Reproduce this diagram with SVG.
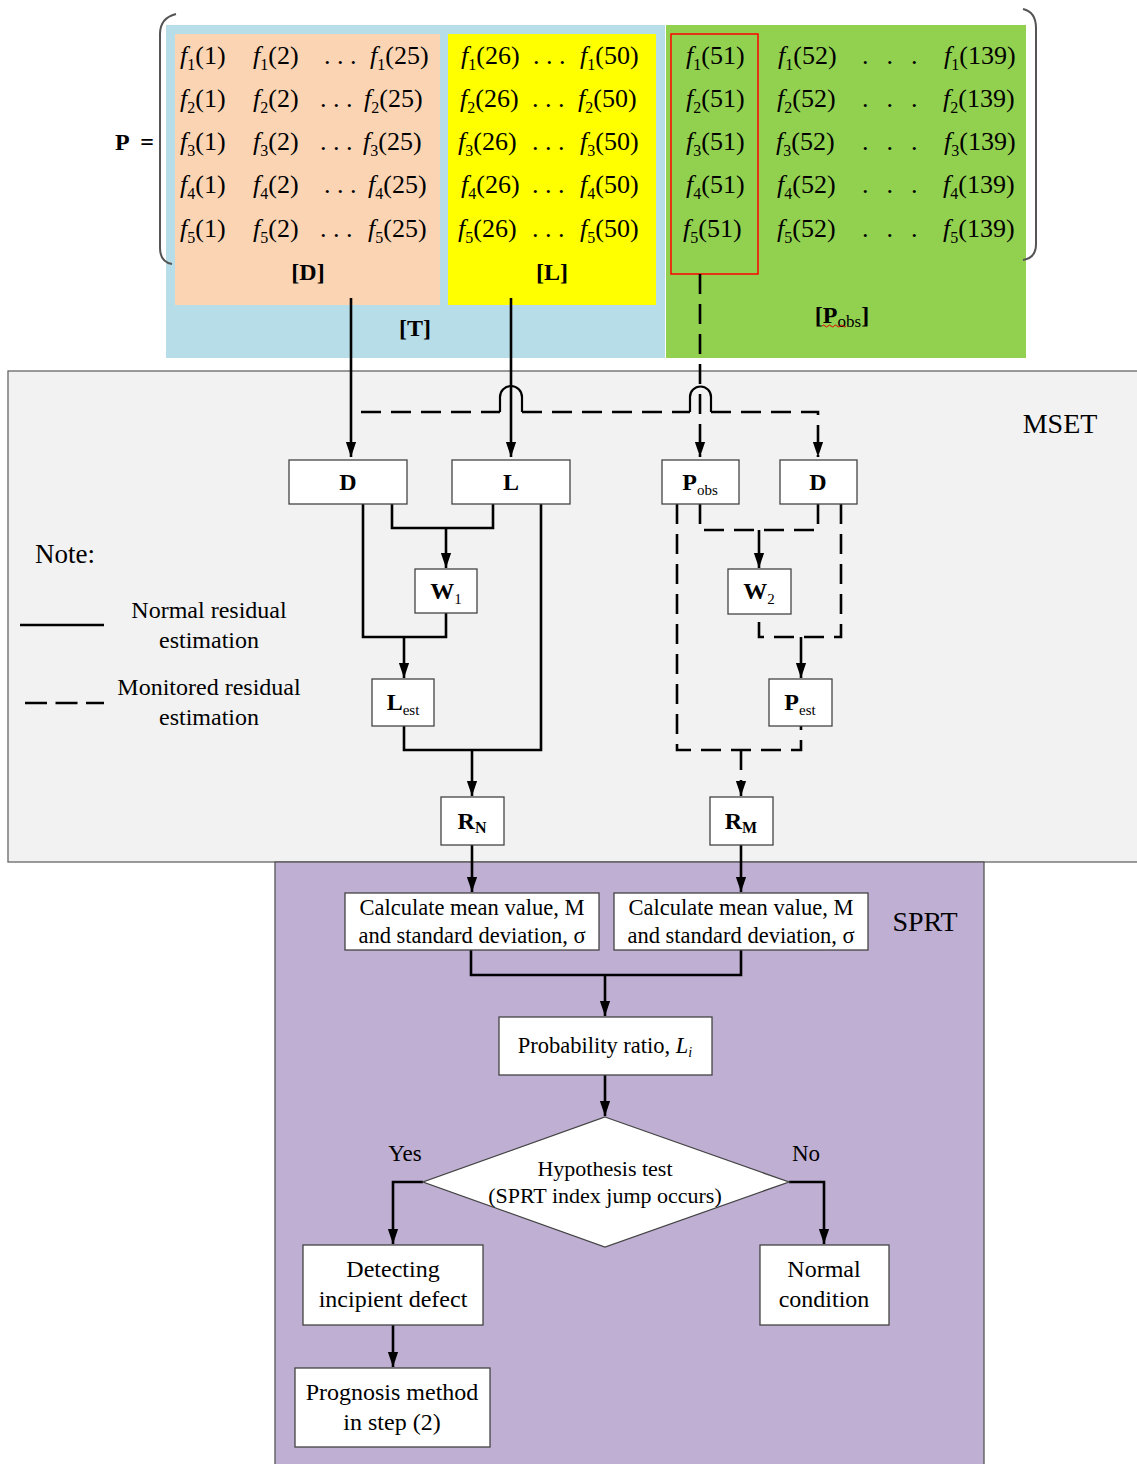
<svg xmlns="http://www.w3.org/2000/svg" width="1137" height="1464" viewBox="0 0 1137 1464">
<defs>
<style>
.t{font-family:"Liberation Serif","Times New Roman",serif;fill:#000}
.m{font-size:26px}
.s{font-size:16px}
.i{font-style:italic}
.b{font-weight:bold}
.box{fill:#fff;stroke:#444;stroke-width:1.3}
.c{fill:none;stroke:#000;stroke-width:2.6}
.d{fill:none;stroke:#000;stroke-width:2.6;stroke-dasharray:20 10}
.nt{font-size:24px;text-anchor:middle}
.sb{font-size:15px;font-weight:normal}
</style>
<marker id="ah" markerWidth="15" markerHeight="22" viewBox="0 0 22 15" refX="22" refY="7.5" orient="auto" markerUnits="userSpaceOnUse"><path d="M0,0 L22,7.5 L0,15 z" fill="#000"/></marker>
</defs>
<rect x="0" y="0" width="1137" height="1464" fill="#fff"/>

<g id="matrix">
<rect x="166" y="25" width="499" height="333" fill="#b7dde8"/>
<rect x="175" y="34" width="265" height="271" fill="#fbd4b4"/>
<rect x="448" y="34" width="208" height="271" fill="#ffff00"/>
<rect x="666" y="25" width="360" height="333" fill="#92d050"/>
<rect x="671" y="34" width="87" height="240" fill="none" stroke="#ff0000" stroke-width="1.5"/>
<path d="M176,14 Q160,18 160,34 V248 Q160,262 172,264" fill="none" stroke="#555" stroke-width="2"/>
<path d="M1023,9 Q1036,12 1036,28 V244 Q1036,258 1023,260" fill="none" stroke="#555" stroke-width="2"/>
<text class="t b" x="115" y="150" font-size="24" letter-spacing="3">P =</text>
<g class="t m">
<text x="180" y="64"><tspan class="i">f</tspan><tspan class="s" dy="6">1</tspan><tspan dy="-6">(1)</tspan></text>
<text x="253" y="64"><tspan class="i">f</tspan><tspan class="s" dy="6">1</tspan><tspan dy="-6">(2)</tspan></text>
<text x="324" y="64">. . .</text>
<text x="370" y="64"><tspan class="i">f</tspan><tspan class="s" dy="6">1</tspan><tspan dy="-6">(25)</tspan></text>
<text x="180" y="107"><tspan class="i">f</tspan><tspan class="s" dy="6">2</tspan><tspan dy="-6">(1)</tspan></text>
<text x="253" y="107"><tspan class="i">f</tspan><tspan class="s" dy="6">2</tspan><tspan dy="-6">(2)</tspan></text>
<text x="320" y="107">. . .</text>
<text x="364" y="107"><tspan class="i">f</tspan><tspan class="s" dy="6">2</tspan><tspan dy="-6">(25)</tspan></text>
<text x="180" y="150"><tspan class="i">f</tspan><tspan class="s" dy="6">3</tspan><tspan dy="-6">(1)</tspan></text>
<text x="253" y="150"><tspan class="i">f</tspan><tspan class="s" dy="6">3</tspan><tspan dy="-6">(2)</tspan></text>
<text x="320" y="150">. . .</text>
<text x="363" y="150"><tspan class="i">f</tspan><tspan class="s" dy="6">3</tspan><tspan dy="-6">(25)</tspan></text>
<text x="180" y="193"><tspan class="i">f</tspan><tspan class="s" dy="6">4</tspan><tspan dy="-6">(1)</tspan></text>
<text x="253" y="193"><tspan class="i">f</tspan><tspan class="s" dy="6">4</tspan><tspan dy="-6">(2)</tspan></text>
<text x="324" y="193">. . .</text>
<text x="368" y="193"><tspan class="i">f</tspan><tspan class="s" dy="6">4</tspan><tspan dy="-6">(25)</tspan></text>
<text x="180" y="237"><tspan class="i">f</tspan><tspan class="s" dy="6">5</tspan><tspan dy="-6">(1)</tspan></text>
<text x="253" y="237"><tspan class="i">f</tspan><tspan class="s" dy="6">5</tspan><tspan dy="-6">(2)</tspan></text>
<text x="320" y="237">. . .</text>
<text x="368" y="237"><tspan class="i">f</tspan><tspan class="s" dy="6">5</tspan><tspan dy="-6">(25)</tspan></text>

<text x="461" y="64"><tspan class="i">f</tspan><tspan class="s" dy="6">1</tspan><tspan dy="-6">(26)</tspan></text>
<text x="533" y="64">. . .</text>
<text x="580" y="64"><tspan class="i">f</tspan><tspan class="s" dy="6">1</tspan><tspan dy="-6">(50)</tspan></text>
<text x="460" y="107"><tspan class="i">f</tspan><tspan class="s" dy="6">2</tspan><tspan dy="-6">(26)</tspan></text>
<text x="532" y="107">. . .</text>
<text x="578" y="107"><tspan class="i">f</tspan><tspan class="s" dy="6">2</tspan><tspan dy="-6">(50)</tspan></text>
<text x="458" y="150"><tspan class="i">f</tspan><tspan class="s" dy="6">3</tspan><tspan dy="-6">(26)</tspan></text>
<text x="532" y="150">. . .</text>
<text x="580" y="150"><tspan class="i">f</tspan><tspan class="s" dy="6">3</tspan><tspan dy="-6">(50)</tspan></text>
<text x="461" y="193"><tspan class="i">f</tspan><tspan class="s" dy="6">4</tspan><tspan dy="-6">(26)</tspan></text>
<text x="532" y="193">. . .</text>
<text x="580" y="193"><tspan class="i">f</tspan><tspan class="s" dy="6">4</tspan><tspan dy="-6">(50)</tspan></text>
<text x="458" y="237"><tspan class="i">f</tspan><tspan class="s" dy="6">5</tspan><tspan dy="-6">(26)</tspan></text>
<text x="532" y="237">. . .</text>
<text x="580" y="237"><tspan class="i">f</tspan><tspan class="s" dy="6">5</tspan><tspan dy="-6">(50)</tspan></text>

<text x="686" y="64"><tspan class="i">f</tspan><tspan class="s" dy="6">1</tspan><tspan dy="-6">(51)</tspan></text>
<text x="778" y="64"><tspan class="i">f</tspan><tspan class="s" dy="6">1</tspan><tspan dy="-6">(52)</tspan></text>
<text x="862" y="64" letter-spacing="18">...</text>
<text x="944" y="64"><tspan class="i">f</tspan><tspan class="s" dy="6">1</tspan><tspan dy="-6">(139)</tspan></text>
<text x="686" y="107"><tspan class="i">f</tspan><tspan class="s" dy="6">2</tspan><tspan dy="-6">(51)</tspan></text>
<text x="777" y="107"><tspan class="i">f</tspan><tspan class="s" dy="6">2</tspan><tspan dy="-6">(52)</tspan></text>
<text x="862" y="107" letter-spacing="18">...</text>
<text x="943" y="107"><tspan class="i">f</tspan><tspan class="s" dy="6">2</tspan><tspan dy="-6">(139)</tspan></text>
<text x="686" y="150"><tspan class="i">f</tspan><tspan class="s" dy="6">3</tspan><tspan dy="-6">(51)</tspan></text>
<text x="776" y="150"><tspan class="i">f</tspan><tspan class="s" dy="6">3</tspan><tspan dy="-6">(52)</tspan></text>
<text x="862" y="150" letter-spacing="18">...</text>
<text x="944" y="150"><tspan class="i">f</tspan><tspan class="s" dy="6">3</tspan><tspan dy="-6">(139)</tspan></text>
<text x="686" y="193"><tspan class="i">f</tspan><tspan class="s" dy="6">4</tspan><tspan dy="-6">(51)</tspan></text>
<text x="777" y="193"><tspan class="i">f</tspan><tspan class="s" dy="6">4</tspan><tspan dy="-6">(52)</tspan></text>
<text x="862" y="193" letter-spacing="18">...</text>
<text x="943" y="193"><tspan class="i">f</tspan><tspan class="s" dy="6">4</tspan><tspan dy="-6">(139)</tspan></text>
<text x="683" y="237"><tspan class="i">f</tspan><tspan class="s" dy="6">5</tspan><tspan dy="-6">(51)</tspan></text>
<text x="777" y="237"><tspan class="i">f</tspan><tspan class="s" dy="6">5</tspan><tspan dy="-6">(52)</tspan></text>
<text x="862" y="237" letter-spacing="18">...</text>
<text x="943" y="237"><tspan class="i">f</tspan><tspan class="s" dy="6">5</tspan><tspan dy="-6">(139)</tspan></text>
</g>
<g class="t b" font-size="24" text-anchor="middle">
<text x="308" y="280">[D]</text>
<text x="552" y="280">[L]</text>
<text x="415" y="336">[T]</text>
<text x="842" y="323"><tspan>[P</tspan><tspan font-weight="normal" font-size="17" dy="4">obs</tspan><tspan dy="-4">]</tspan></text>
</g>
<path d="M822,326 q1.5,-2 3,0 t3,0 t3,0 t3,0 t3,0 t3,0 t3,0 t3,0" fill="none" stroke="#e00000" stroke-width="1"/>
</g>

<g id="mset-panel">
<rect x="8" y="371" width="1135" height="491" fill="#f2f2f2" stroke="#666" stroke-width="1.3"/>
<text class="t" x="1060" y="433" font-size="28" text-anchor="middle">MSET</text>
</g>
<g id="sprt-panel">
<rect x="275" y="862" width="709" height="606" fill="#bfafd2" stroke="#555" stroke-width="1.3"/>
<text class="t" x="925" y="931" font-size="28" text-anchor="middle">SPRT</text>
</g>

<g id="legend" class="t">
<text x="35" y="563" font-size="27">Note:</text>
<path d="M20,625 H104" stroke="#000" stroke-width="2.6"/>
<path d="M25,703 H104" stroke="#000" stroke-width="2.6" stroke-dasharray="22 8.5"/>
<g font-size="24" text-anchor="middle">
<text x="209" y="618">Normal residual</text>
<text x="209" y="648">estimation</text>
<text x="209" y="695">Monitored residual</text>
<text x="209" y="725">estimation</text>
</g>
</g>

<g id="connectors">
<path class="c" d="M351,298 V457" marker-end="url(#ah)"/>
<path class="c" d="M511,298 V457" marker-end="url(#ah)"/>
<path class="d" d="M361,412 H500"/>
<path class="d" d="M522,412 H690"/>
<path class="d" d="M711,412 H818 V457" marker-end="url(#ah)"/>
<path fill="none" stroke="#000" stroke-width="2.2" d="M500,412 V397 A11,11 0 0 1 522,397 V412"/>
<path fill="none" stroke="#000" stroke-width="2.2" d="M690,412 V397 A10.5,10.5 0 0 1 711,397 V412"/>
<path class="d" d="M700,274 V457" marker-end="url(#ah)"/>
<path class="c" d="M392,504 V528 H493 V504"/>
<path class="c" d="M446,528 V568" marker-end="url(#ah)"/>
<path class="c" d="M363,504 V637 H446 V612"/>
<path class="c" d="M404,637 V678" marker-end="url(#ah)"/>
<path class="c" d="M541,504 V750 H404 V726"/>
<path class="c" d="M472,750 V796" marker-end="url(#ah)"/>
<path class="c" d="M472,845 V892" marker-end="url(#ah)"/>
<path class="d" d="M700,504 V530 H818 V504"/>
<path class="c" d="M759,530 V568" marker-end="url(#ah)"/>
<path class="d" d="M841,504 V637 H759 V614"/>
<path class="c" d="M801,637 V678" marker-end="url(#ah)"/>
<path class="d" d="M677,504 V750 H801 V726"/>
<path class="d" d="M741,750 V796" marker-end="url(#ah)"/>
<path class="c" d="M741,845 V892" marker-end="url(#ah)"/>
<path class="c" d="M471,950 V975 H741 V950"/>
<path class="c" d="M605,975 V1016" marker-end="url(#ah)"/>
<path class="c" d="M605,1075 V1116" marker-end="url(#ah)"/>
<path class="c" d="M423,1182 H393 V1244" marker-end="url(#ah)"/>
<path class="c" d="M789,1182 H824 V1244" marker-end="url(#ah)"/>
<path class="c" d="M393,1325 V1367" marker-end="url(#ah)"/>
</g>

<g id="node-D1"><rect class="box" x="289" y="460" width="118" height="44"/><text class="t b nt" x="348" y="490">D</text></g>
<g id="node-L"><rect class="box" x="452" y="460" width="118" height="44"/><text class="t b nt" x="511" y="490">L</text></g>
<g id="node-Pobs"><rect class="box" x="662" y="460" width="77" height="44"/><text class="t b nt" x="700" y="490"><tspan>P</tspan><tspan class="sb" dy="5">obs</tspan></text></g>
<g id="node-D2"><rect class="box" x="780" y="460" width="77" height="44"/><text class="t b nt" x="818" y="490">D</text></g>
<g id="node-W1"><rect class="box" x="415" y="569" width="62" height="44"/><text class="t b nt" x="446" y="599"><tspan>W</tspan><tspan class="sb" dy="5">1</tspan></text></g>
<g id="node-W2"><rect class="box" x="728" y="569" width="63" height="45"/><text class="t b nt" x="759" y="599"><tspan>W</tspan><tspan class="sb" dy="5">2</tspan></text></g>
<g id="node-Lest"><rect class="box" x="372" y="679" width="62" height="47"/><text class="t b nt" x="403" y="710"><tspan>L</tspan><tspan class="sb" dy="5">est</tspan></text></g>
<g id="node-Pest"><rect class="box" x="769" y="679" width="63" height="47"/><text class="t b nt" x="800" y="710"><tspan>P</tspan><tspan class="sb" dy="5">est</tspan></text></g>
<g id="node-RN"><rect class="box" x="441" y="797" width="63" height="48"/><text class="t b nt" x="472" y="829"><tspan>R</tspan><tspan font-size="16" dy="4">N</tspan></text></g>
<g id="node-RM"><rect class="box" x="710" y="797" width="63" height="48"/><text class="t b nt" x="741" y="829"><tspan>R</tspan><tspan font-size="16" dy="4">M</tspan></text></g>

<g id="node-calc1"><rect class="box" x="345" y="893" width="254" height="57"/><g class="t" font-size="22.5" text-anchor="middle"><text x="472" y="915">Calculate mean value, M</text><text x="472" y="943">and standard deviation, σ</text></g></g>
<g id="node-calc2"><rect class="box" x="614" y="893" width="254" height="57"/><g class="t" font-size="22.5" text-anchor="middle"><text x="741" y="915">Calculate mean value, M</text><text x="741" y="943">and standard deviation, σ</text></g></g>
<g id="node-prob"><rect class="box" x="499" y="1017" width="213" height="58"/><text class="t" x="605" y="1053" font-size="22.5" text-anchor="middle">Probability ratio, <tspan class="i">L</tspan><tspan class="i" font-size="14" dy="4">i</tspan></text></g>
<g id="node-hyp"><polygon class="box" points="605,1117 789,1182 605,1247 423,1182"/><g class="t" font-size="22" text-anchor="middle"><text x="605" y="1176">Hypothesis test</text><text x="605" y="1203">(SPRT index jump occurs)</text></g></g>
<text class="t" x="405" y="1161" font-size="23" text-anchor="middle">Yes</text>
<text class="t" x="806" y="1161" font-size="23" text-anchor="middle">No</text>
<g id="node-detect"><rect class="box" x="303" y="1245" width="180" height="80"/><g class="t" font-size="24" text-anchor="middle"><text x="393" y="1277">Detecting</text><text x="393" y="1307">incipient defect</text></g></g>
<g id="node-normal"><rect class="box" x="760" y="1245" width="129" height="80"/><g class="t" font-size="24" text-anchor="middle"><text x="824" y="1277">Normal</text><text x="824" y="1307">condition</text></g></g>
<g id="node-prog"><rect class="box" x="295" y="1368" width="195" height="79"/><g class="t" font-size="24" text-anchor="middle"><text x="392" y="1400">Prognosis method</text><text x="392" y="1430">in step (2)</text></g></g>
</svg>
